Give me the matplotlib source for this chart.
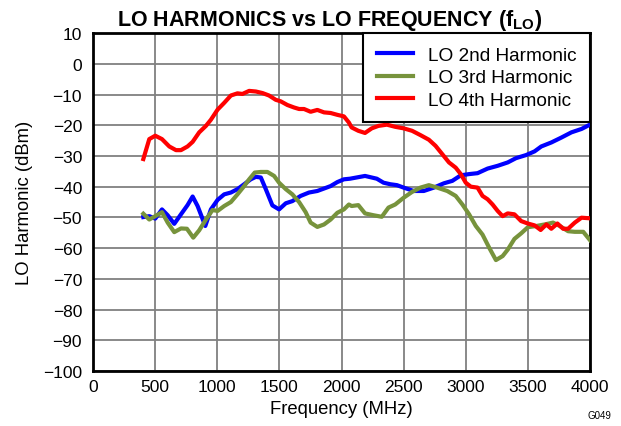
import matplotlib
matplotlib.use("Agg")
import matplotlib.pyplot as plt

plt.rcParams['font.family'] = ['Liberation Sans', 'DejaVu Sans']
plt.rcParams['mathtext.fontset'] = 'custom'
plt.rcParams['mathtext.rm'] = 'Liberation Sans'
plt.rcParams['mathtext.bf'] = 'Liberation Sans:bold'

red_f = [404, 452, 500, 554, 613, 667, 707, 760, 801, 854, 908, 948, 1002, 1055, 1109, 1162, 1202,
         1256, 1310, 1363, 1416, 1470, 1510, 1564, 1617, 1658, 1698, 1751, 1805, 1859, 1912, 1966,
         2019, 2059, 2081, 2135, 2189, 2243, 2297, 2365, 2432, 2500, 2568, 2635, 2703, 2757, 2811,
         2865, 2919, 2960, 3000, 3041, 3095, 3135, 3176, 3216, 3257, 3297, 3338, 3392, 3446, 3500,
         3554, 3603, 3649, 3689, 3738, 3784, 3824, 3878, 3932, 4000]
red_v = [-31.0, -24.5, -23.4, -24.5, -26.9, -28.1, -28.1, -26.9, -25.4, -22.3, -20.2, -18.2, -14.9,
         -12.7, -10.3, -9.6, -9.8, -8.8, -9.0, -9.5, -10.3, -11.7, -12.2, -13.4, -14.2, -14.7, -14.7,
         -15.6, -15.0, -15.8, -16.0, -16.6, -17.1, -19.1, -20.7, -21.8, -22.5, -21.0, -20.2, -19.8,
         -20.5, -21.0, -21.8, -23.2, -24.7, -26.7, -29.4, -32.1, -33.8, -35.9, -38.7, -40.0, -40.3,
         -43.0, -44.1, -45.8, -47.9, -49.6, -48.7, -49.0, -51.2, -52.0, -52.6, -54.1, -52.3, -53.7,
         -52.0, -53.7, -53.7, -51.7, -50.1, -50.3]

blue_f = [404, 452, 500, 554, 600, 653, 707, 760, 801, 841, 903, 948, 1002, 1055, 1109, 1162, 1216,
          1269, 1310, 1350, 1390, 1443, 1497, 1551, 1604, 1671, 1738, 1805, 1859, 1912, 1966, 2019,
          2068, 2189, 2284, 2338, 2392, 2446, 2500, 2581, 2662, 2743, 2824, 2892, 2960, 3027, 3095,
          3176, 3257, 3338, 3405, 3486, 3554, 3608, 3689, 3770, 3851, 3932, 4000]
blue_v = [-49.9, -49.6, -50.4, -47.4, -49.3, -52.1, -49.0, -46.0, -43.2, -46.3, -52.8, -47.4, -44.3,
          -42.5, -41.9, -40.8, -39.2, -37.6, -36.8, -37.0, -40.8, -46.1, -47.4, -45.4, -44.7, -43.0,
          -41.9, -41.4, -40.6, -39.8, -38.5, -37.6, -37.4, -36.5, -37.4, -38.7, -39.2, -39.5, -40.3,
          -41.4, -41.4, -40.3, -38.9, -38.1, -36.3, -35.9, -35.6, -34.1, -33.2, -32.1, -30.7, -29.7,
          -28.5, -26.9, -25.6, -24.0, -22.3, -21.2, -19.8]

green_f = [404, 452, 500, 554, 600, 653, 707, 755, 806, 854, 908, 961, 1002, 1055, 1109, 1162, 1216,
           1256, 1301, 1350, 1403, 1457, 1497, 1551, 1604, 1658, 1711, 1751, 1805, 1859, 1912, 1966,
           2019, 2059, 2081, 2135, 2189, 2257, 2324, 2378, 2432, 2500, 2568, 2635, 2703, 2770, 2851,
           2919, 2973, 3027, 3081, 3135, 3189, 3243, 3297, 3338, 3392, 3446, 3500, 3568, 3635, 3703,
           3757, 3824, 3878, 3946, 4000]
green_v = [-48.8, -50.7, -49.6, -48.3, -51.7, -54.8, -53.6, -53.7, -56.6, -54.2, -50.7, -47.6, -47.9,
           -46.3, -45.0, -42.5, -39.8, -37.6, -35.4, -35.2, -35.2, -36.5, -38.7, -40.8, -42.5, -45.0,
           -48.3, -51.7, -53.1, -52.3, -50.7, -48.5, -47.4, -45.8, -46.3, -46.0, -48.7, -49.3, -49.8,
           -46.8, -45.8, -43.6, -41.7, -40.3, -39.5, -40.3, -41.4, -43.0, -45.8, -49.0, -52.8, -55.6,
           -59.9, -63.9, -62.6, -60.5, -57.0, -55.2, -53.2, -52.8, -52.3, -51.7, -52.8, -54.5, -54.7,
           -54.7, -57.4]

x_ticks = [0, 500, 1000, 1500, 2000, 2500, 3000, 3500, 4000]
y_ticks = list(range(-100, 11, 10))

fig = plt.figure(figsize=(6.21, 4.27), dpi=100)
ax = fig.add_axes([0.150, 0.129, 0.800, 0.791])

ax.plot(blue_f, blue_v, color='#0000FF', lw=3, label='LO 2nd Harmonic', zorder=3)
ax.plot(green_f, green_v, color='#77933C', lw=3, label='LO 3rd Harmonic', zorder=3)
ax.plot(red_f, red_v, color='#FF0000', lw=3, label='LO 4th Harmonic', zorder=3)

ax.set_xlim(0, 4000)
ax.set_ylim(-100, 10)
ax.set_xticks(x_ticks)
ax.set_yticks(y_ticks)
ax.grid(True, color='#808080', lw=1.3)
ax.tick_params(length=0, labelsize=12.5)
ax.tick_params(axis='x', pad=6)
ax.tick_params(axis='y', pad=8)
for s in ax.spines.values():
    s.set_linewidth(2)
    s.set_color('black')

ax.set_xlabel('Frequency (MHz)', fontsize=13.3, labelpad=4)
ax.set_ylabel('LO Harmonic (dBm)', fontsize=13.3, labelpad=7)
ax.set_title(r'LO HARMONICS vs LO FREQUENCY (f$_{\mathbf{LO}}$)', fontsize=15.5,
             fontweight='bold', pad=6, x=0.476)

leg = ax.legend(loc='upper right', fontsize=13.7, frameon=True, fancybox=False,
                borderaxespad=0, handlelength=1.9, handletextpad=0.8,
                edgecolor='black', framealpha=1,
                borderpad=0.7, labelspacing=0.27)
leg.get_frame().set_linewidth(1.5)

fig.text(0.985, 0.015, 'G049', fontsize=7, ha='right', va='bottom')

fig.savefig('out.png', dpi=100)
